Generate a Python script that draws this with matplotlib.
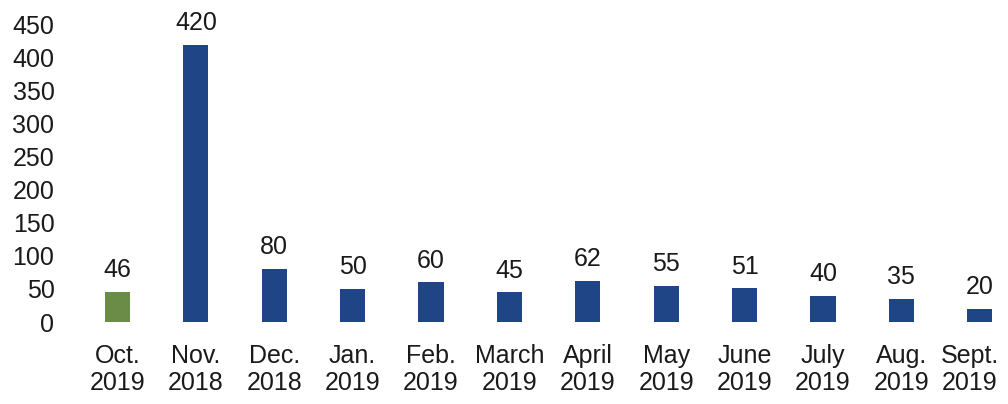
import matplotlib.pyplot as plt
import matplotlib.transforms as mtransforms

months = ["Oct.\n2019", "Nov.\n2018", "Dec.\n2018", "Jan.\n2019", "Feb.\n2019", "March\n2019",
          "April\n2019", "May\n2019", "June\n2019", "July\n2019", "Aug.\n2019", "Sept.\n2019"]
values = [46, 420, 80, 50, 60, 45, 62, 55, 51, 40, 35, 20]
colors = ["#6a8c46"] + ["#1f4586"] * 11

plt.rcParams['font.family'] = ['Liberation Sans', 'DejaVu Sans']

fig = plt.figure(figsize=(10.08, 4.04), dpi=100)
ax = fig.add_axes([60 / 1008, (404 - 322) / 404, 948 / 1008, 317 / 404])

x = list(range(len(values)))
ax.bar(x, values, width=0.32, color=colors)
for xi, v in zip(x, values):
    ax.annotate(str(v), (xi, v), xytext=(0, 7), textcoords="offset points",
                ha="center", va="bottom", fontsize=18, color="#1a1a1a")

ax.set_xlim(-0.733, 11.36)
ax.set_ylim(0, 480)
ax.set_yticks(range(0, 451, 50))
ax.set_xticks(x)
ax.set_xticklabels(months, fontsize=18, color="#1a1a1a", linespacing=1.15)
ax.tick_params(axis="y", labelsize=18, labelcolor="#1a1a1a", length=0, pad=4)
ax.tick_params(axis="x", length=0, pad=16)
for s in ax.spines.values():
    s.set_visible(False)

# the last label is nudged left so it fits inside the picture
last = ax.get_xticklabels()[-1]
last.set_transform(last.get_transform() + mtransforms.ScaledTranslation(-0.1, 0, fig.dpi_scale_trans))

fig.savefig("out.png", dpi=100)
